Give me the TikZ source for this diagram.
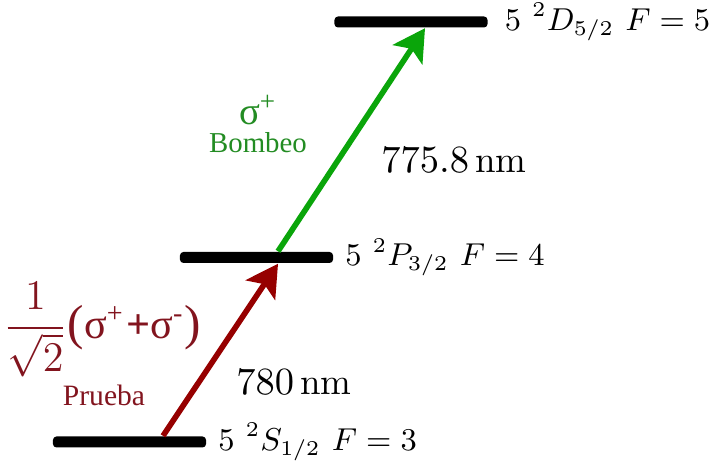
\documentclass[tikz,border=0pt]{standalone}
\usepackage{amsmath}
\usepackage{fontspec}
\usepackage{xcolor}
\usetikzlibrary{positioning, arrows.meta}
\newfontfamily\labelfont{Liberation Serif}
\definecolor{probered}{RGB}{150, 0, 0}
\definecolor{probetext}{RGB}{130, 20, 30}
\definecolor{pumpgreen}{RGB}{10, 165, 10}
\definecolor{pumptext}{RGB}{35, 140, 35}
\tikzset{
  level/.style={fill=black, rounded corners=1pt, minimum width=1.53cm,
    minimum height=0.11cm, inner sep=0pt},
  lvllabel/.style={inner sep=0pt, font=\fontsize{9.2}{11}\selectfont},
  beam/.style={line width=1.6pt, -{Stealth[length=9pt, width=10pt, inset=2pt]}},
}
\newcommand{\bigparen}[1]{{\fontsize{14}{14}\selectfont\raisebox{-0.5pt}{#1}}}

\begin{document}
\begin{tikzpicture}[x=0.01cm, y=-0.01cm, node distance=0.11cm]
\useasboundingbox (0,0) rectangle (713,471);

\node[level] (lvlS) at (129.5,442) {};
\node[level] (lvlP) at (256.5,257.5) {};
\node[level] (lvlD) at (411,22) {};

\node[lvllabel, right=of lvlS] (labS) {$5\ {}^2S_{1/2}\ F=3$};
\node[lvllabel, right=of lvlP] (labP) {$5\ {}^2P_{3/2}\ F=4$};
\node[lvllabel, right=0.16cm of lvlD] (labD) {$5\ {}^2D_{5/2}\ F=5$};

\draw[beam, probered] ([xshift=0.335cm]lvlS.north) -- ([xshift=0.215cm]lvlP.south);
\draw[beam, pumpgreen] ([xshift=0.215cm]lvlP.north) -- ([xshift=0.14cm]lvlD.south);

\node[font=\fontsize{10.5}{12}\selectfont] (wlPump) at (454,160) {$775.8\,\mathrm{nm}$};
\node[font=\fontsize{10.5}{12}\selectfont] (wlProbe) at (294,382) {$780\,\mathrm{nm}$};

\node[pumptext, font=\labelfont\fontsize{11}{12}\selectfont] (polPump) at (258,110) {σ\textsuperscript{+}};
\node[pumptext, font=\labelfont\fontsize{8.2}{10}\selectfont] (namePump) at (258,143) {Bombeo};

\node[probetext, font=\labelfont\fontsize{12}{14}\selectfont, inner sep=0pt] (polProbe) at (102,330)
  {$\dfrac{1}{\sqrt{2}}$\bigparen{(}σ\textsuperscript{+}\hspace{0.5pt}\textbf{+}σ\textsuperscript{-}\bigparen{)}};
\node[probetext, font=\labelfont\fontsize{8.4}{10}\selectfont] (nameProbe) at (104,395) {Prueba};

\end{tikzpicture}
\end{document}
